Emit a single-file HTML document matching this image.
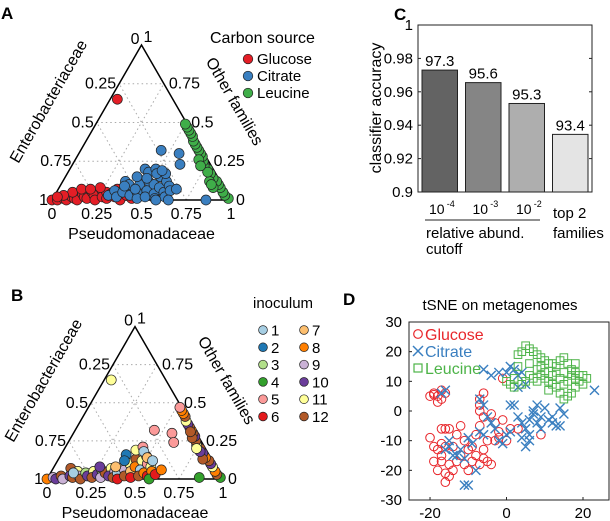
<!DOCTYPE html>
<html><head><meta charset="utf-8"><style>
html,body{margin:0;padding:0;background:#fff}
svg{display:block;font-family:"Liberation Sans",Arial,sans-serif}
</style></head><body>
<svg id="fig" width="610" height="521" viewBox="0 0 610 521">
<g id="panelA"></g>
<g id="panelB"></g>
<g id="panelC"></g>
<g id="panelD"></g>
</svg>
<script>
// ---------- data ----------
const glucoseA = [[0,0],[0.03,0],[0.06,0.01],[0.08,0],[0.1,0.02],[0.12,0.01],[0.14,0],[0.15,0.04],[0.17,0.02],[0.19,0.01],[0.2,0.05],[0.22,0.03],[0.24,0],[0.25,0.06],[0.27,0.02],[0.28,0.05],[0.3,0.01],[0.31,0.04],[0.33,0.07],[0.34,0.02],[0.36,0.05],[0.38,0],[0.4,0.03],[0.42,0.06],[0.44,0.01],[0.09,0.05],[0.13,0.07],[0.05,0.03],[0.18,0.07],[0.23,0.08],[0.46,0.02],[0.02,0.02],[0.04,0.65]];
const citrateA = [[0.3,0.03],[0.32,0.06],[0.35,0.02],[0.37,0.05],[0.4,0.08],[0.42,0.03],[0.44,0.1],[0.45,0.05],[0.47,0.01],[0.48,0.12],[0.5,0.06],[0.51,0.02],[0.52,0.1],[0.53,0.15],[0.55,0.04],[0.56,0.08],[0.57,0.01],[0.58,0.12],[0.6,0.05],[0.61,0.09],[0.62,0.02],[0.63,0.06],[0.65,0.0],[0.35,0.12],[0.4,0.15],[0.42,0.2],[0.45,0.18],[0.48,0.2],[0.5,0.17],[0.46,0.14],[0.38,0.1],[0.55,0.17],[0.52,0.19],[0.45,0.32],[0.56,0.3],[0.6,0.23],[0.58,0.0],[0.86,0.0],[0.43,0.07],[0.66,0.07],[0.36,0.09]];
const leucineA = [[0.98,0.01],[0.95,0.03],[0.93,0.05],[0.9,0.08],[0.88,0.1],[0.86,0.12],[0.83,0.14],[0.8,0.17],[0.77,0.2],[0.74,0.22],[0.72,0.25],[0.7,0.28],[0.68,0.3],[0.66,0.32],[0.64,0.34],[0.62,0.36],[0.6,0.38],[0.58,0.41],[0.56,0.43],[0.54,0.45],[0.52,0.47],[0.5,0.49],[0.82,0.12],[0.78,0.18],[0.69,0.26],[0.86,0.08],[0.84,0.1],[0.72,0.22]];
const carbonLabels = ["Glucose","Citrate","Leucine"];
const carbonColors = ["#e41e26","#3a7fc0","#3fae49"];

// panel B: [P, O, inoculum]
const pointsB = [[0,0,8],[0.03,0.01,9],[0.05,0,10],[0.07,0.02,12],[0.09,0.0,9],[0.1,0.07,12],[0.12,0.02,10],[0.14,0.01,12],[0.15,0.05,11],[0.17,0.02,9],[0.19,0.0,12],[0.2,0.04,3],[0.22,0.02,10],[0.24,0.05,11],[0.25,0.01,12],[0.27,0.03,10],[0.28,0.06,3],[0.3,0.01,9],[0.31,0.04,12],[0.33,0.07,11],[0.34,0.02,10],[0.36,0.05,9],[0.37,0.01,12],[0.38,0.04,1],[0.4,0.0,6],[0.41,0.06,9],[0.42,0.1,11],[0.43,0.02,12],[0.44,0.13,12],[0.45,0.05,7],[0.46,0.08,8],[0.47,0.01,6],[0.48,0.12,11],[0.49,0.15,12],[0.5,0.06,1],[0.51,0.02,12],[0.52,0.1,5],[0.53,0.04,8],[0.55,0.08,11],[0.56,0.02,6],[0.57,0.05,8],[0.58,0.0,4],[0.6,0.03,6],[0.62,0.06,8],[0.37,0.16,2],[0.38,0.12,2],[0.41,0.19,11],[0.44,0.21,5],[0.46,0.18,1],[0.5,0.14,7],[0.45,0.32,5],[0.56,0.3,5],[0.6,0.24,5],[0.86,0.01,4],[0.04,0.65,11],[0.13,0.04,1],[0.35,0.08,7],[0.54,0.12,1],[0.26,0.08,10],
[0.98,0.01,4],[0.95,0.03,12],[0.93,0.05,8],[0.9,0.08,11],[0.88,0.1,10],[0.86,0.12,12],[0.83,0.14,8],[0.8,0.17,10],[0.77,0.2,12],[0.74,0.22,11],[0.72,0.25,12],[0.7,0.28,10],[0.68,0.3,12],[0.66,0.32,8],[0.64,0.34,12],[0.62,0.36,10],[0.6,0.38,11],[0.58,0.41,12],[0.56,0.43,8],[0.54,0.45,8],[0.52,0.47,5],[0.82,0.13,12],[0.78,0.18,10],[0.69,0.27,12],[0.75,0.2,11],[0.66,0.31,12]];
const inocColors = ["#a6cee3","#1f78b4","#b2df8a","#33a02c","#fb9a99","#e31a1c","#fdbf6f","#ff7f00","#cab2d6","#6a3d9a","#ffff99","#b15928"];

// panel C
const barCats = ["1e-4","1e-3","1e-2","top2"];
const barValues = [0.973,0.9655,0.953,0.9345];
const barLabels = ["97.3","95.6","95.3","93.4"];
const barFills = ["#636363","#858585","#aeaeae","#e4e4e4"];
const cTicks = [0.9,0.92,0.94,0.96,0.98,1];
const cTickLabels = ["0.9","0.92","0.94","0.96","0.98","1"];

// panel D
const glucoseD = [[-20,5],[-19,6],[-18,5],[-17,7],[-16,6],[-18,3],[-17,4],[-19,5.5],[-17,-6],[-16,-6],[-15,-6],[-20,-9],[-19,-12],[-18,-13],[-17,-11],[-16,-12],[-19,-17],[-17,-17],[-15,-18],[-14,-20],[-16,-21],[-15,-22],[-16,-24],[-13,-17],[-12,-15],[-11,-18],[-10,-20],[-9,-17],[-8,-15],[-7,-18],[-6,-16],[-5,-17],[-4,-18],[-6,-13],[-9,-12],[-11,-10],[-13,-8],[-8,-8],[-7,-5],[-6,-2],[-7,2],[-7,4],[-6,6],[-7,0],[-5,-10],[-3,-10],[-2,-7],[-1,-3],[-3,-4],[-4,-1],[-2,-9],[0,-10],[1,-6],[3,-6],[9,-8],[-1,11],[-18,-20],[-17,-15],[-14,-12],[-10,-13],[-12,-5]];
const citrateD = [[-17,6],[-16,7],[-16,-13],[-15,-12],[-14,-15],[-13,-15],[-15,-10],[-12,-13],[-11,-16],[-10,-9],[-9,-11],[-8,-20],[-11,-25],[-10,-25],[-7,-7],[-6,-8],[-7,4],[-6,2],[-5,-2],[-4,-4],[-3,-6],[-2,-10],[-1,-11],[0,-8],[1,-7],[1,2],[2,2],[3,-2],[4,-4],[5,-6],[5,-12],[6,-8],[6,-3],[7,-1],[7,0],[8,2],[8,-4],[9,-2],[10,1],[9,-6],[12,-4],[13,-5],[14,-5],[15,-1],[12,-2],[-6,14],[-4,12],[-2,13],[0,13],[1,15],[2,14],[3,12],[4,13],[5,9],[3,8],[23,7],[14,1],[11,-3],[6,-10],[4,-9]];
const leucineD = [[3,19],[4,20],[5,22],[6,21],[7,20],[8,19],[9,18],[10,17],[12,16],[13,15],[11,16],[14,17],[15,18],[16,16],[17,14],[18,13],[19,12],[20,12],[21,11],[19,10],[18,8],[17,6],[16,5],[15,4],[14,6],[13,8],[12,9],[11,10],[10,11],[9,12],[8,10],[7,11],[6,12],[5,10],[4,9],[2,8],[1,9],[2,11],[0,10],[3,15],[8,14],[10,13],[12,12],[14,11],[16,10],[18,11],[13,13],[6,16],[9,15],[11,7],[15,9],[17,12],[20,9],[18,16],[15,13]];
const dXTicks = [-20,0,20];
const dYTicks = [-30,-20,-10,0,10,20,30];

// ---------- helpers ----------
const NS="http://www.w3.org/2000/svg";
function mk(parent,tag,attrs,text){const e=document.createElementNS(NS,tag);for(const k in attrs)e.setAttribute(k,attrs[k]);if(text!==undefined)e.textContent=text;parent.appendChild(e);return e;}

function ternary(g,L,B,base){
  const H=base*Math.sqrt(3)/2;
  const tx=(p,o)=>L+base*(p+o/2), ty=(p,o)=>B-H*o;
  [0.25,0.5,0.75].forEach(v=>{
    let l=mk(g,'line',{x1:tx(0,v),y1:ty(0,v),x2:tx(1-v,v),y2:ty(1-v,v),stroke:'#aaa','stroke-width':1,'stroke-dasharray':'1.5,3'});
    
    
    l=mk(g,'line',{x1:tx(v,0),y1:ty(v,0),x2:tx(v,1-v),y2:ty(v,1-v),stroke:'#aaa','stroke-width':1,'stroke-dasharray':'1.5,3'});
    
    
    l=mk(g,'line',{x1:tx(v,0),y1:ty(v,0),x2:tx(0,v),y2:ty(0,v),stroke:'#aaa','stroke-width':1,'stroke-dasharray':'1.5,3'});
    
    
  });
  const tri=mk(g,'polygon',{points:`${tx(0,0)},${ty(0,0)} ${tx(1,0)},${ty(1,0)} ${tx(0,1)},${ty(0,1)}`,fill:'none',stroke:'#000','stroke-width':1.5});
  
  
  const fs=16;
  ["0","0.25","0.5","0.75","1"].forEach((s,i)=>{const t=mk(g,'text',{x:tx(i/4,0),y:B+19,'font-size':fs,'text-anchor':'middle'},s);
    });
  [["0.25",0.75],["0.5",0.5],["0.75",0.25]].forEach(([s,o])=>{const t=mk(g,'text',{x:tx(0,o)-3,y:ty(0,o)+5,'font-size':fs,'text-anchor':'end'},s);
    });
  let t=mk(g,'text',{x:L-4,y:B+5,'font-size':fs,'text-anchor':'end'},"1");
  t=mk(g,'text',{x:tx(0,1)-2,y:ty(0,1)-1,'font-size':fs,'text-anchor':'end'},"0");
  t=mk(g,'text',{x:tx(0,1)+2,y:ty(0,1)-3,'font-size':fs,'text-anchor':'start'},"1");
  [["0.75",0.75],["0.5",0.5],["0.25",0.25],["0",0]].forEach(([s,o])=>{const t=mk(g,'text',{x:tx(1-o,o)+5,y:ty(1-o,o)+5,'font-size':fs,'text-anchor':'start'},s);
    });
  t=mk(g,'text',{x:0,y:0,'font-size':16,'text-anchor':'middle',transform:`translate(${L+1},${B-96}) rotate(-60)`},"Enterobacteriaceae");
  t=mk(g,'text',{x:0,y:0,'font-size':16,'text-anchor':'middle',transform:`translate(${L+base-1},${B-96}) rotate(60)`},"Other families");
  t=mk(g,'text',{x:L+base/2,y:B+39,'font-size':16,'text-anchor':'middle'},"Pseudomonadaceae");
  return {tx,ty};
}

// ---------- panel A ----------
(function(){
  const g=document.getElementById('panelA');
  let t=mk(g,'text',{x:1,y:19,'font-size':17,'font-weight':'bold'},"A");
  const {tx,ty}=ternary(g,52,200,179);
  [glucoseA,citrateA,leucineA].forEach((arr,k)=>{arr.forEach(([p,o])=>{
    const c=mk(g,'circle',{cx:tx(p,o),cy:ty(p,o),r:5,fill:carbonColors[k],stroke:'#222','stroke-width':0.7});
    
    
  });});
  t=mk(g,'text',{x:210,y:43,'font-size':16},"Carbon source");
  carbonLabels.forEach((s,i)=>{
    const c=mk(g,'circle',{cx:248,cy:59+i*17,r:4.8,fill:carbonColors[i],stroke:'#222','stroke-width':0.7});
    
    
    const tt=mk(g,'text',{x:257,y:64+i*17,'font-size':15},s);
    
    
  });
})();

// ---------- panel B ----------
(function(){
  const g=document.getElementById('panelB');
  let t=mk(g,'text',{x:11,y:301,'font-size':17,'font-weight':'bold'},"B");
  const {tx,ty}=ternary(g,47,479,176);
  pointsB.forEach(([p,o,k])=>{
    const c=mk(g,'circle',{cx:tx(p,o),cy:ty(p,o),r:5,fill:inocColors[k-1],stroke:'#222','stroke-width':0.7});
    
    
  });
  t=mk(g,'text',{x:253,y:308,'font-size':15},"inoculum");
  inocColors.forEach((col,i)=>{
    const colI=Math.floor(i/6), row=i%6;
    const x=263+colI*41, y=330+row*17.3;
    const c=mk(g,'circle',{cx:x,cy:y,r:4.4,fill:col,stroke:'#222','stroke-width':0.7});
    
    
    const tt=mk(g,'text',{x:x+8,y:y+5.5,'font-size':15},String(i+1));
    
    
  });
})();

// ---------- panel C ----------
(function(){
  const g=document.getElementById('panelC');
  const X0=418,X1=592,Y0=192,Y1=25;
  const ys=v=>Y0-(v-0.9)/0.1*(Y0-Y1);
  let t=mk(g,'text',{x:394,y:20,'font-size':17,'font-weight':'bold'},"C");
  const slot=(X1-X0)/barCats.length;
  barValues.forEach((v,i)=>{
    const bx=X0+slot*i+4, bw=slot-8;
    const r=mk(g,'rect',{x:bx,y:ys(v),width:bw,height:Y0-ys(v),fill:barFills[i],stroke:'#222','stroke-width':1});
    
    
    const tt=mk(g,'text',{x:bx+bw/2,y:ys(v)-4,'font-size':15,'text-anchor':'middle'},barLabels[i]);
    
    
  });
  const box=mk(g,'rect',{x:X0,y:Y1,width:X1-X0,height:Y0-Y1,fill:'none',stroke:'#222','stroke-width':1});
  
  cTicks.forEach((v,i)=>{
    const tt=mk(g,'text',{x:413,y:ys(v)+5,'font-size':15,'text-anchor':'end'},cTickLabels[i]);
    
    
    const l=mk(g,'line',{x1:X0,x2:X0+3,y1:ys(v),y2:ys(v),stroke:'#222'});
    
    const l2=mk(g,'line',{x1:X1,x2:X1-3,y1:ys(v),y2:ys(v),stroke:'#222'});
    
  });
  t=mk(g,'text',{x:0,y:0,'font-size':16,'text-anchor':'middle',transform:'translate(381,108) rotate(-90)'},"classifier accuracy");
  ["-4","-3","-2"].forEach((e,i)=>{
    const cx=X0+slot*i+slot/2;
    const tt=mk(g,'text',{x:cx-3,y:214,'font-size':14,'text-anchor':'middle'},"10");
    
    const s=mk(g,'text',{x:cx+7,y:207,'font-size':9},e);
    
  });
  const ul=mk(g,'line',{x1:425,x2:540,y1:220,y2:220,stroke:'#222','stroke-width':1});
  t=mk(g,'text',{x:426,y:238,'font-size':15},"relative abund.");
  t=mk(g,'text',{x:426,y:254,'font-size':15},"cutoff");
  t=mk(g,'text',{x:553,y:218,'font-size':15},"top 2");
  t=mk(g,'text',{x:553,y:238,'font-size':15},"families");
})();

// ---------- panel D ----------
(function(){
  const g=document.getElementById('panelD');
  const X0=409,X1=609,Y0=500,Y1=322, xmin=-25.5,xmax=26.8,ymin=-30,ymax=30;
  const xs=v=>X0+(v-xmin)/(xmax-xmin)*(X1-X0), ys=v=>Y0-(v-ymin)/(ymax-ymin)*(Y0-Y1);
  let t=mk(g,'text',{x:343,y:305,'font-size':17,'font-weight':'bold'},"D");
  t=mk(g,'text',{x:500,y:310,'font-size':15,'text-anchor':'middle'},"tSNE on metagenomes");
  const box=mk(g,'rect',{x:X0,y:Y1,width:X1-X0,height:Y0-Y1,fill:'none',stroke:'#222','stroke-width':1});
  
  dYTicks.forEach(v=>{
    const tt=mk(g,'text',{x:402,y:ys(v)+5,'font-size':15,'text-anchor':'end'},String(v));
    
    const l=mk(g,'line',{x1:X0,x2:X0+3,y1:ys(v),y2:ys(v),stroke:'#222'});
    
  });
  dXTicks.forEach(v=>{
    const tt=mk(g,'text',{x:xs(v),y:518,'font-size':15,'text-anchor':'middle'},String(v));
    
    const l=mk(g,'line',{x1:xs(v),x2:xs(v),y1:Y0,y2:Y0-3,stroke:'#222'});
    
  });
  const red="#e8262b",blue="#3a7fc0",green="#4db348";
  glucoseD.forEach(([x,y])=>{
    const c=mk(g,'circle',{cx:xs(x),cy:ys(y),r:4.3,fill:'none',stroke:red,'stroke-width':1});
    
  });
  citrateD.forEach(([x,y])=>{
    const cx=xs(x),cy=ys(y),d=4.5;
    const p=mk(g,'path',{d:`M${cx-d},${cy-d}L${cx+d},${cy+d}M${cx-d},${cy+d}L${cx+d},${cy-d}`,stroke:blue,'stroke-width':1.4,fill:'none'});
    
  });
  leucineD.forEach(([x,y])=>{
    const r=mk(g,'rect',{x:xs(x)-3.8,y:ys(y)-3.8,width:7.6,height:7.6,fill:'none',stroke:green,'stroke-width':1});
    
  });
  let c=mk(g,'circle',{cx:418,cy:334,r:4.3,fill:'none',stroke:red,'stroke-width':1.2});
  t=mk(g,'text',{x:425,y:340,'font-size':16,fill:red},"Glucose");
  c=mk(g,'path',{d:'M413,346L423,356M413,356L423,346',stroke:blue,'stroke-width':1.5});
  t=mk(g,'text',{x:425,y:357,'font-size':16,fill:blue},"Citrate");
  c=mk(g,'rect',{x:414,y:364,width:8,height:8,fill:'none',stroke:green,'stroke-width':1.2});
  t=mk(g,'text',{x:425,y:374,'font-size':16,fill:green},"Leucine");
})();
</script>
</body></html>
